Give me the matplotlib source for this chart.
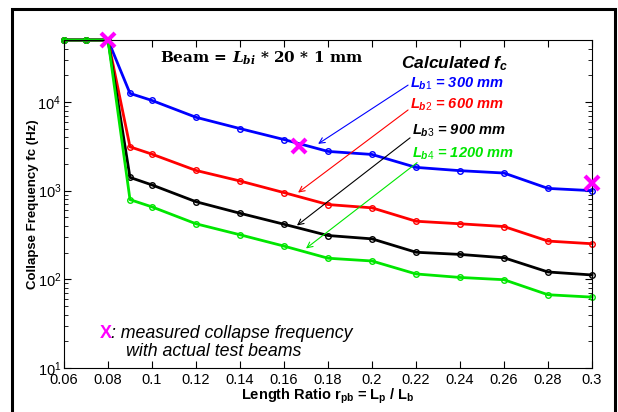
import numpy as np
import matplotlib
matplotlib.use('Agg')
import matplotlib.pyplot as plt
from matplotlib.patches import Rectangle
from matplotlib.ticker import FixedLocator, FuncFormatter

plt.rcParams['font.family'] = 'Liberation Sans'
plt.rcParams['mathtext.fontset'] = 'custom'
plt.rcParams['mathtext.rm'] = 'Liberation Sans'
plt.rcParams['mathtext.it'] = 'Liberation Sans:bold:italic'
plt.rcParams['mathtext.bf'] = 'Liberation Sans:bold'
plt.rcParams['mathtext.bfit'] = 'DejaVu Serif:bold:italic'

# length ratio r_pb
ratio = [0.06, 0.07, 0.08, 0.09, 0.10, 0.12, 0.14, 0.16, 0.18, 0.20, 0.22, 0.24, 0.26, 0.28, 0.30]

# calculated collapse frequency (Hz) per beam length
fc_300 = [5e4, 5e4, 5e4, 12500, 10400, 6720, 5010, 3770, 2770, 2560, 1830, 1680, 1580, 1060, 1000]
fc_600 = [5e4, 5e4, 5e4, 3120, 2580, 1690, 1285, 950, 697, 640, 452, 423, 394, 270, 252]
fc_900 = [5e4, 5e4, 5e4, 1410, 1160, 750, 556, 418, 312, 286, 202, 191, 175, 121, 112]
fc_1200 = [5e4, 5e4, 5e4, 792, 656, 423, 318, 237, 173, 161, 115, 105, 99, 67, 63]

beam_labels = [r'$\mathit{L_{b1}}$ = 300 mm', r'$\mathit{L_{b2}}$ = 600 mm',
               r'$\mathit{L_{b3}}$ = 900 mm', r'$\mathit{L_{b4}}$ = 1200 mm']

# measured collapse frequency with test beams
meas_ratio = [0.08, 0.1667, 0.30]
meas_fc = [5e4, 3150, 1210]

colors = ['blue', 'red', 'black', '#00e600']
# label anchor, arrow start and arrow tip for each curve
label_pos = [(0.2173, 14360), (0.2173, 8340), (0.2182, 4250), (0.2182, 2350)]
arrow_from = [(0.2164, 15500), (0.2164, 8130), (0.2173, 3940), (0.2205, 2070)]
arrow_to = [(0.1755, 3370), (0.1664, 951), (0.1659, 405), (0.170, 223)]

fig = plt.figure(figsize=(6.18, 4.12), dpi=100)
ax = fig.add_axes([64/618, 1-368/412, 528/618, 328/412])

for vals, col in zip([fc_300, fc_600, fc_900, fc_1200], colors):
    ax.plot(ratio, vals, '-o', color=col, lw=2, ms=4, mfc='none', mew=1, clip_on=False)

for i, col in enumerate(colors):
    ax.annotate('', xy=arrow_to[i], xytext=arrow_from[i],
                arrowprops=dict(arrowstyle='->', color=col, lw=0.8, shrinkA=0, shrinkB=0))
    ax.text(label_pos[i][0], label_pos[i][1], beam_labels[i], color=col, fontsize=10.5,
            fontweight='bold', style='italic', ha='left', va='baseline')

ax.plot(meas_ratio, meas_fc, 'x', color='magenta', ms=10, mew=3, clip_on=False, zorder=5)

ax.set_yscale('log')
ax.set_xlim(0.06, 0.3)
ax.set_ylim(10, 5e4)
ax.xaxis.set_major_locator(FixedLocator(np.arange(0.06, 0.3001, 0.02)))
ax.xaxis.set_major_formatter(FuncFormatter(lambda v, p: '%g' % round(v, 2)))
ax.tick_params(which='both', direction='in', top=True, right=True, labelsize=10.5)
ax.tick_params(which='major', length=5)
ax.tick_params(which='minor', length=3)
ax.tick_params(axis='y', pad=2)

ax.set_xlabel(r'Length Ratio $\mathbf{r_{pb}}$ = $\mathbf{L_p}$ / $\mathbf{L_b}$',
              fontweight='bold', fontsize=10.5, labelpad=0)
ax.set_ylabel('Collapse Frequency fc (Hz)', fontweight='bold', fontsize=9.5, labelpad=-1)

ax.text(0.2377, 27400, r'Calculated $\mathit{f_c}$', fontsize=12.5, fontweight='bold',
        style='italic', ha='center', va='center')
ax.text(0.1500, 31200, r'Beam = $\mathbfit{L_{bi}}$ * 20 * 1 mm', fontsize=11,
        fontweight='bold', family='DejaVu Serif', ha='center', va='center')

ax.text(0.0764, 24.7, 'X', color='magenta', fontsize=13, fontweight='bold', ha='left', va='center')
ax.text(0.0814, 24.7, ': measured collapse frequency', fontsize=12.8, style='italic',
        ha='left', va='center')
ax.text(0.0882, 15.5, 'with actual test beams', fontsize=12.8, style='italic',
        ha='left', va='center')

# outer frame
fig.patches.append(Rectangle((12/618, -0.05), 603/618, 1.05 - 9/412, transform=fig.transFigure,
                             fill=False, ec='black', lw=2.2))

fig.savefig('out.png', dpi=100)
